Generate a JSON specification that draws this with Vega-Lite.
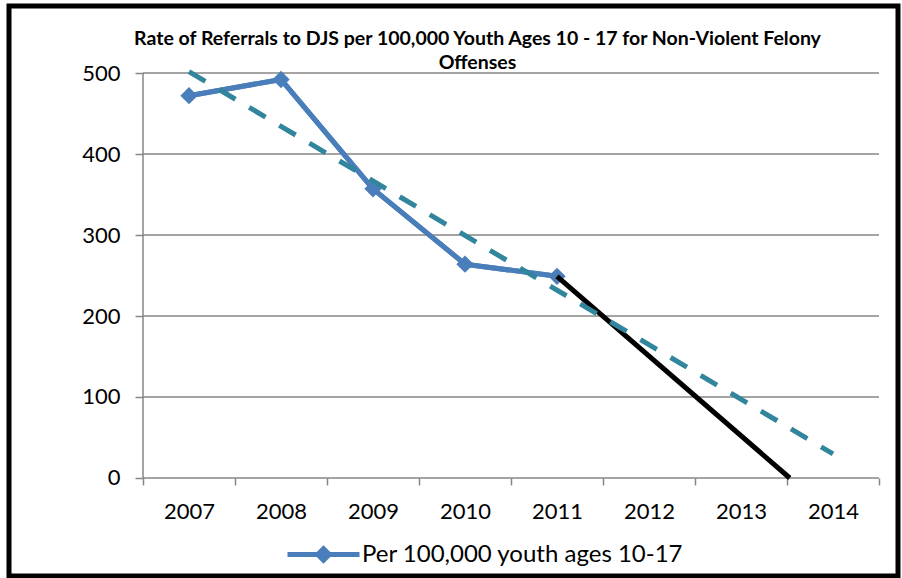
{
  "$schema": "https://vega.github.io/schema/vega-lite/v6.json",
  "width": 889,
  "height": 570,
  "autosize": "none",
  "padding": {"left": 9, "top": 6, "right": 4, "bottom": 2},
  "background": "white",
  "config": {"view": {"stroke": "black", "strokeWidth": 5}, "font": "Lato"},
  "title": {
    "text": ["Rate of Referrals to DJS per 100,000 Youth Ages 10 - 17 for Non-Violent Felony", "Offenses"],
    "font": "Lato", "fontSize": 19.5, "fontWeight": "bold", "color": "black",
    "anchor": "middle", "frame": "group", "offset": -86, "baseline": "bottom",
    "lineHeight": 24, "dx": 24
  },
  "datasets": {
    "series": [
      {"year": 2007, "value": 472},
      {"year": 2008, "value": 492},
      {"year": 2009, "value": 357},
      {"year": 2010, "value": 264},
      {"year": 2011, "value": 249}
    ],
    "trend": [
      {"year": 2007, "trend": 501.6},
      {"year": 2014, "trend": 29.8}
    ],
    "projection": [
      {"year": 2011, "proj": 249},
      {"year": 2013.53, "proj": 0}
    ],
    "grid": [{"g": 0}, {"g": 100}, {"g": 200}, {"g": 300}, {"g": 400}, {"g": 500}]
  },
  "layer": [
    {
      "data": {"name": "series"},
      "mark": {"type": "line", "strokeWidth": 5, "strokeJoin": "round"},
      "encoding": {
        "x": {
          "field": "year", "type": "quantitative",
          "scale": {"domain": [2005.0435, 2014.7065], "nice": false, "zero": false},
          "axis": {
            "values": [2006.5, 2007.5, 2008.5, 2009.5, 2010.5, 2011.5, 2012.5, 2013.5, 2014.5],
            "labelExpr": "datum.value < 2014 ? toString(datum.value + 0.5) : ''",
            "labelOffset": 46, "offset": -98, "domain": false, "grid": false,
            "tickSize": 7, "tickColor": "#868686", "tickWidth": 1.5,
            "labelOverlap": false, "labelFlush": false, "labelBound": false,
            "labelPadding": 16, "labelFontSize": 22, "labelFont": "Lato", "labelColor": "black",
            "title": null
          }
        },
        "y": {
          "field": "value", "type": "quantitative",
          "scale": {"domain": [-120.99, 582.72], "nice": false, "zero": false},
          "axis": {
            "values": [0, 100, 200, 300, 400, 500],
            "offset": -134, "domain": false, "grid": false,
            "tickSize": 8, "tickColor": "#868686", "tickWidth": 1.5,
            "labelPadding": 15, "labelFontSize": 22, "labelFont": "Lato", "labelColor": "black",
            "labelBaseline": "middle", "labelOverlap": false, "labelBound": false, "labelFlush": false,
            "title": null
          }
        },
        "color": {
          "datum": "Per 100,000 youth ages 10-17",
          "scale": {"range": ["#4a7ebb"]},
          "legend": {
            "orient": "none", "legendX": 276, "legendY": 510, "title": null,
            "symbolType": "M-1,0L1,0M0,-0.16L0.16,0L0,0.16L-0.16,0Z",
            "symbolSize": 5184, "symbolStrokeWidth": 5,
            "symbolFillColor": "#4a7ebb", "symbolStrokeColor": "#4a7ebb",
            "labelFontSize": 24, "labelFont": "Lato", "labelColor": "black",
            "labelOffset": 0, "padding": 0, "labelLimit": 600
          }
        }
      }
    },
    {
      "data": {"name": "grid"},
      "mark": {"type": "rule", "color": "#868686", "strokeWidth": 1.5},
      "encoding": {
        "y": {"field": "g", "type": "quantitative"},
        "x": {"datum": 2006.5, "type": "quantitative"},
        "x2": {"datum": 2014.5}
      }
    },
    {
      "data": {"values": [{"a": 0}]},
      "mark": {"type": "rule", "color": "#868686", "strokeWidth": 1.5},
      "encoding": {
        "x": {"datum": 2006.5, "type": "quantitative"},
        "y": {"datum": 0, "type": "quantitative"},
        "y2": {"datum": 500}
      }
    },
    {
      "data": {"name": "series"},
      "mark": {"type": "line", "strokeWidth": 5, "strokeJoin": "round", "color": "#4a7ebb"},
      "encoding": {
        "x": {"field": "year", "type": "quantitative"},
        "y": {"field": "value", "type": "quantitative"}
      }
    },
    {
      "data": {"name": "series"},
      "mark": {"type": "point", "shape": "diamond", "filled": true, "size": 300, "color": "#4a7ebb", "opacity": 1},
      "encoding": {
        "x": {"field": "year", "type": "quantitative"},
        "y": {"field": "value", "type": "quantitative"}
      }
    },
    {
      "data": {"name": "projection"},
      "mark": {"type": "line", "strokeWidth": 5, "color": "black"},
      "encoding": {
        "x": {"field": "year", "type": "quantitative"},
        "y": {"field": "proj", "type": "quantitative"}
      }
    },
    {
      "data": {"name": "trend"},
      "mark": {"type": "line", "strokeWidth": 5, "color": "#31859c", "strokeDash": [19, 16]},
      "encoding": {
        "x": {"field": "year", "type": "quantitative"},
        "y": {"field": "trend", "type": "quantitative"}
      }
    }
  ]
}
